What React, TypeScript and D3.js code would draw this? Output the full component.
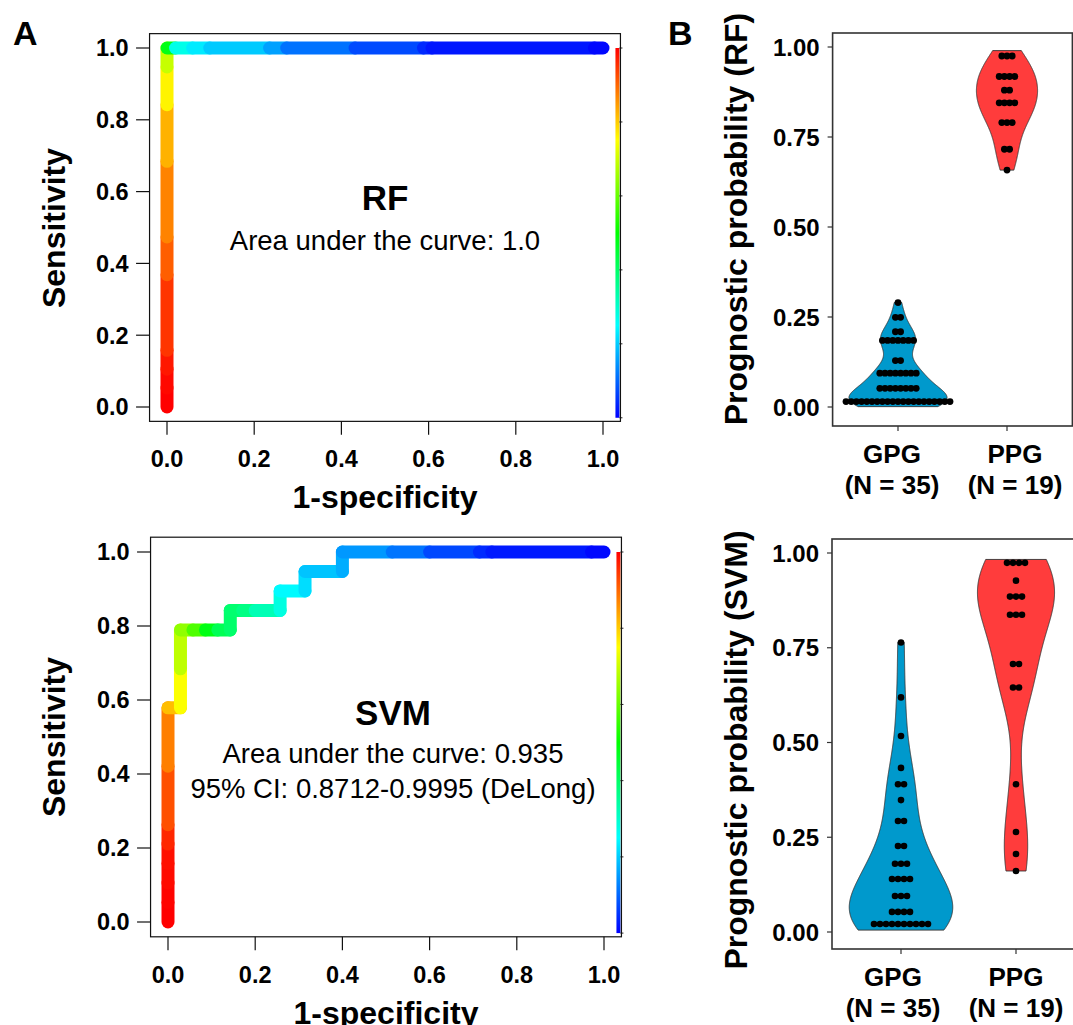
import React from "react";
import * as d3 from "d3";

const FONT = "Arial, 'Liberation Sans', Helvetica, sans-serif";
const W = 1073;
const H = 1025;
const rep = (v: number, n: number): number[] => Array(n).fill(v);

// Predicted probabilities, one inner array per dot row
const rfGPG: number[][] = [
  [0.29], [0.249, 0.249], [0.209, 0.209], rep(0.185, 7), [0.129, 0.129],
  rep(0.094, 8), rep(0.052, 8), [0.001, ...rep(0.015, 19), 0.029],
];
const rfPPG: number[][] = [
  [0.99, 0.975, 0.96], rep(0.918, 4), rep(0.88, 2), rep(0.845, 4),
  rep(0.79, 3), rep(0.716, 2), [0.658],
];
const svmGPG: number[][] = [
  [0.764], [0.619], [0.517], [0.433], [0.394, 0.386], [0.348], rep(0.293, 2),
  rep(0.227, 2), rep(0.18, 3), rep(0.14, 4), rep(0.095, 3), rep(0.053, 4),
  [0.005, ...rep(0.021, 8), 0.037],
];
const svmPPG: number[][] = [
  [0.983, 0.975, 0.97, 0.965], [0.927], rep(0.885, 3), rep(0.837, 3),
  rep(0.707, 2), rep(0.645, 2), [0.39], [0.264], [0.206], [0.161],
];

const rocTicks = [0, 0.2, 0.4, 0.6, 0.8, 1.0];
const probTicks = [0, 0.25, 0.5, 0.75, 1.0];
const groups = ["GPG", "PPG"];
const groupN = ["(N = 35)", "(N = 19)"];
const rfText = ["Area under the curve: 1.0"];
const svmText = ["Area under the curve: 0.935", "95% CI: 0.8712-0.9995 (DeLong)"];

function rainbow(t: number): string {
  // t = 1 -> red (high cutoff), t = 0 -> blue
  return d3.hsl((1 - t) * 240, 1, 0.5).formatHex();
}

type Pt = { fpr: number; tpr: number; c: number };
function rocPoints(pos: number[], neg: number[]): Pt[] {
  const cuts = Array.from(new Set([...pos, ...neg])).sort((a, b) => b - a);
  const pts: Pt[] = [{ fpr: 0, tpr: 0, c: cuts[0] }];
  for (const c of cuts) {
    pts.push({
      fpr: neg.filter((v) => v >= c).length / neg.length,
      tpr: pos.filter((v) => v >= c).length / pos.length,
      c,
    });
  }
  return pts;
}

function RocPanel(props: {
  xr: [number, number];
  yr: [number, number];
  pos: number[][];
  neg: number[][];
  name: string;
  nameY: number;
  nameSize: number;
  lines: string[];
  lineYs: number[];
  textX: number;
  titleCY: number;
  gradId: string;
}) {
  const { xr, yr, pos, neg } = props;
  const x = d3.scaleLinear().domain([0, 1]).range(xr);
  const y = d3.scaleLinear().domain([0, 1]).range(yr);
  const left = x(-0.04), right = x(1.04), top = y(1.04), bottom = y(-0.04);
  const P = pos.flat(), N = neg.flat();
  const pts = rocPoints(P, N);
  const all = [...P, ...N];
  const cmin = d3.min(all)!, cmax = d3.max(all)!;
  const segs = pts.slice(1).map((p, i) => {
    const q = pts[i];
    const m = (p.c + q.c) / 2;
    return { x1: x(q.fpr), y1: y(q.tpr), x2: x(p.fpr), y2: y(p.tpr), col: rainbow((m - cmin) / (cmax - cmin)) };
  });
  const barTop = y(1);
  const barBot = y(-0.03);
  const barTicks = d3.range(6).map((i) => barTop + ((barBot - barTop) * i) / 5);
  return (
    <g>
      {segs.map((s, i) => (
        <line key={i} x1={s.x1} y1={s.y1} x2={s.x2} y2={s.y2} stroke={s.col} strokeWidth={13} strokeLinecap="round" />
      ))}
      <rect x={right - 5} y={barTop} width={4} height={barBot - barTop} fill={`url(#${props.gradId})`} />
      {barTicks.map((t, i) => (
        <line key={i} x1={right - 1} x2={right + 2} y1={t} y2={t} stroke="#222" strokeWidth={1} />
      ))}
      <rect x={left} y={top} width={right - left} height={bottom - top} fill="none" stroke="#111" strokeWidth={1.2} />
      {rocTicks.map((t) => (
        <g key={"y" + t}>
          <line x1={left - 13.5} x2={left} y1={y(t)} y2={y(t)} stroke="#111" strokeWidth={1.2} />
          <text x={left - 21} y={y(t)} dy="0.36em" textAnchor="end" fontSize={23.5} fontWeight="bold" fontFamily={FONT}>
            {t.toFixed(1)}
          </text>
        </g>
      ))}
      {rocTicks.map((t) => (
        <g key={"x" + t}>
          <line x1={x(t)} x2={x(t)} y1={bottom} y2={bottom + 13.5} stroke="#111" strokeWidth={1.2} />
          <text x={x(t)} y={bottom + 46} textAnchor="middle" fontSize={23.5} fontWeight="bold" fontFamily={FONT}>
            {t.toFixed(1)}
          </text>
        </g>
      ))}
      <text x={(x(0) + x(1)) / 2} y={bottom + 87} textAnchor="middle" fontSize={32} fontWeight="bold" fontFamily={FONT}>
        1-specificity
      </text>
      <text
        transform={`translate(65,${props.titleCY}) rotate(-90)`}
        textAnchor="middle"
        fontSize={32}
        fontWeight="bold"
        fontFamily={FONT}
      >
        Sensitivity
      </text>
      <text x={props.textX} y={props.nameY} textAnchor="middle" fontSize={props.nameSize} fontWeight="bold" fontFamily={FONT}>
        {props.name}
      </text>
      {props.lines.map((l, i) => (
        <text key={i} x={props.textX} y={props.lineYs[i]} textAnchor="middle" fontSize={27.5} fontFamily={FONT}>
          {l}
        </text>
      ))}
    </g>
  );
}

function bwNrd0(x: number[]): number {
  const s = x.slice().sort(d3.ascending);
  const sd = d3.deviation(s) || 0;
  const iqr = (d3.quantile(s, 0.75) || 0) - (d3.quantile(s, 0.25) || 0);
  let lo = Math.min(sd, iqr / 1.34);
  if (!(lo > 0)) lo = sd || Math.abs(s[0]) || 1;
  return 0.9 * lo * Math.pow(s.length, -0.2);
}

function kde(vals: number[]): [number, number][] {
  const h = bwNrd0(vals);
  const lo = d3.min(vals)!, hi = d3.max(vals)!;
  const n = vals.length;
  return d3.range(512).map((i) => {
    const t = lo + ((hi - lo) * i) / 511;
    let s = 0;
    for (const v of vals) {
      const u = (t - v) / h;
      s += Math.exp(-0.5 * u * u);
    }
    return [t, s / (n * h * Math.sqrt(2 * Math.PI))] as [number, number];
  });
}

function ViolinPanel(props: {
  data: number[][][];
  yr: [number, number];
  xr: [number, number];
  top: number;
  bottom: number;
  title: string;
  titleCY: number;
  dotR: number;
  dotStep: number;
  labelDx: number[];
}) {
  const { data, yr, xr, top, bottom } = props;
  const y = d3.scaleLinear().domain([0, 1]).range(yr);
  const x = d3.scalePoint<string>().domain(groups).range(xr);
  const step = xr[1] - xr[0];
  const left = x(groups[0])! - 0.6 * step;
  const right = x(groups[1])! + 0.6 * step;
  const dens = data.map((rows) => kde(rows.flat()));
  const gmax = d3.max(dens.flat(), (d) => d[1])!;
  const fills = ["#0099CC", "#FF3C3C"];
  return (
    <g>
      {dens.map((dd, gi) => {
        const cx = x(groups[gi])!;
        const area = d3
          .area<[number, number]>()
          .y((d) => y(d[0]))
          .x0((d) => cx - (0.45 * step * d[1]) / gmax)
          .x1((d) => cx + (0.45 * step * d[1]) / gmax);
        return <path key={gi} d={area(dd) || ""} fill={fills[gi]} stroke="#333" strokeWidth={0.9} />;
      })}
      {data.map((rows, gi) => {
        const cx = x(groups[gi])!;
        return rows.map((row, ri) => {
          const c = (d3.min(row)! + d3.max(row)!) / 2;
          const n = row.length;
          return row.map((_, k) => (
            <circle key={gi + "-" + ri + "-" + k} cx={cx + (k - (n - 1) / 2) * props.dotStep} cy={y(c)} r={props.dotR} fill="#000" />
          ));
        });
      })}
      <rect x={left} y={top} width={right - left} height={bottom - top} fill="none" stroke="#333" strokeWidth={1.6} />
      {probTicks.map((t) => (
        <g key={t}>
          <line x1={left - 5} x2={left} y1={y(t)} y2={y(t)} stroke="#333" strokeWidth={1.2} />
          <text x={left - 13} y={y(t)} dy="0.36em" textAnchor="end" fontSize={24} fontWeight="bold" fontFamily={FONT}>
            {t.toFixed(2)}
          </text>
        </g>
      ))}
      {groups.map((g, gi) => (
        <g key={g}>
          <line x1={x(g)!} x2={x(g)!} y1={bottom} y2={bottom + 5} stroke="#333" strokeWidth={1.2} />
          <text x={x(g)! + props.labelDx[gi]} y={bottom + 37} textAnchor="middle" fontSize={26} fontWeight="bold" fontFamily={FONT}>
            {g}
          </text>
          <text x={x(g)! + props.labelDx[gi]} y={bottom + 68} textAnchor="middle" fontSize={26} fontWeight="bold" fontFamily={FONT}>
            {groupN[gi]}
          </text>
        </g>
      ))}
      <text
        transform={`translate(747,${props.titleCY}) rotate(-90)`}
        textAnchor="middle"
        fontSize={32}
        fontWeight="bold"
        fontFamily={FONT}
      >
        {props.title}
      </text>
    </g>
  );
}

export default function App() {
  const stops = d3.range(0, 1.0001, 0.05);
  return (
    <svg width={W} height={H} style={{ position: "absolute", left: 0, top: 0, background: "#fff" }}>
      <defs>
        <linearGradient id="rainbowBar" x1="0" y1="0" x2="0" y2="1">
          {stops.map((s) => (
            <stop key={s} offset={s} stopColor={rainbow(1 - s)} />
          ))}
        </linearGradient>
      </defs>
      <rect width={W} height={H} fill="#fff" />
      <text x={13} y={45} fontSize={34} fontWeight="bold" fontFamily={FONT}>A</text>
      <text x={668} y={45} fontSize={34} fontWeight="bold" fontFamily={FONT}>B</text>
      <RocPanel
        xr={[167, 603]}
        yr={[407, 48]}
        pos={rfPPG}
        neg={rfGPG}
        name="RF"
        nameY={210}
        nameSize={35}
        lines={rfText}
        lineYs={[250]}
        textX={385}
        titleCY={228}
        gradId="rainbowBar"
      />
      <RocPanel
        xr={[168, 604]}
        yr={[922, 552]}
        pos={svmPPG}
        neg={svmGPG}
        name="SVM"
        nameY={725}
        nameSize={35}
        lines={svmText}
        lineYs={[763, 798]}
        textX={393}
        titleCY={737}
        gradId="rainbowBar"
      />
      <ViolinPanel
        data={[rfGPG, rfPPG]}
        yr={[407, 47]}
        xr={[898, 1007]}
        top={33}
        bottom={426}
        title="Prognostic probability (RF)"
        titleCY={219}
        dotR={3.4}
        dotStep={5.2}
        labelDx={[-6, 8]}
      />
      <ViolinPanel
        data={[svmGPG, svmPPG]}
        yr={[932, 553]}
        xr={[901, 1016]}
        top={539}
        bottom={949}
        title="Prognostic probability (SVM)"
        titleCY={750}
        dotR={3.3}
        dotStep={6}
        labelDx={[-8, 0]}
      />
    </svg>
  );
}
